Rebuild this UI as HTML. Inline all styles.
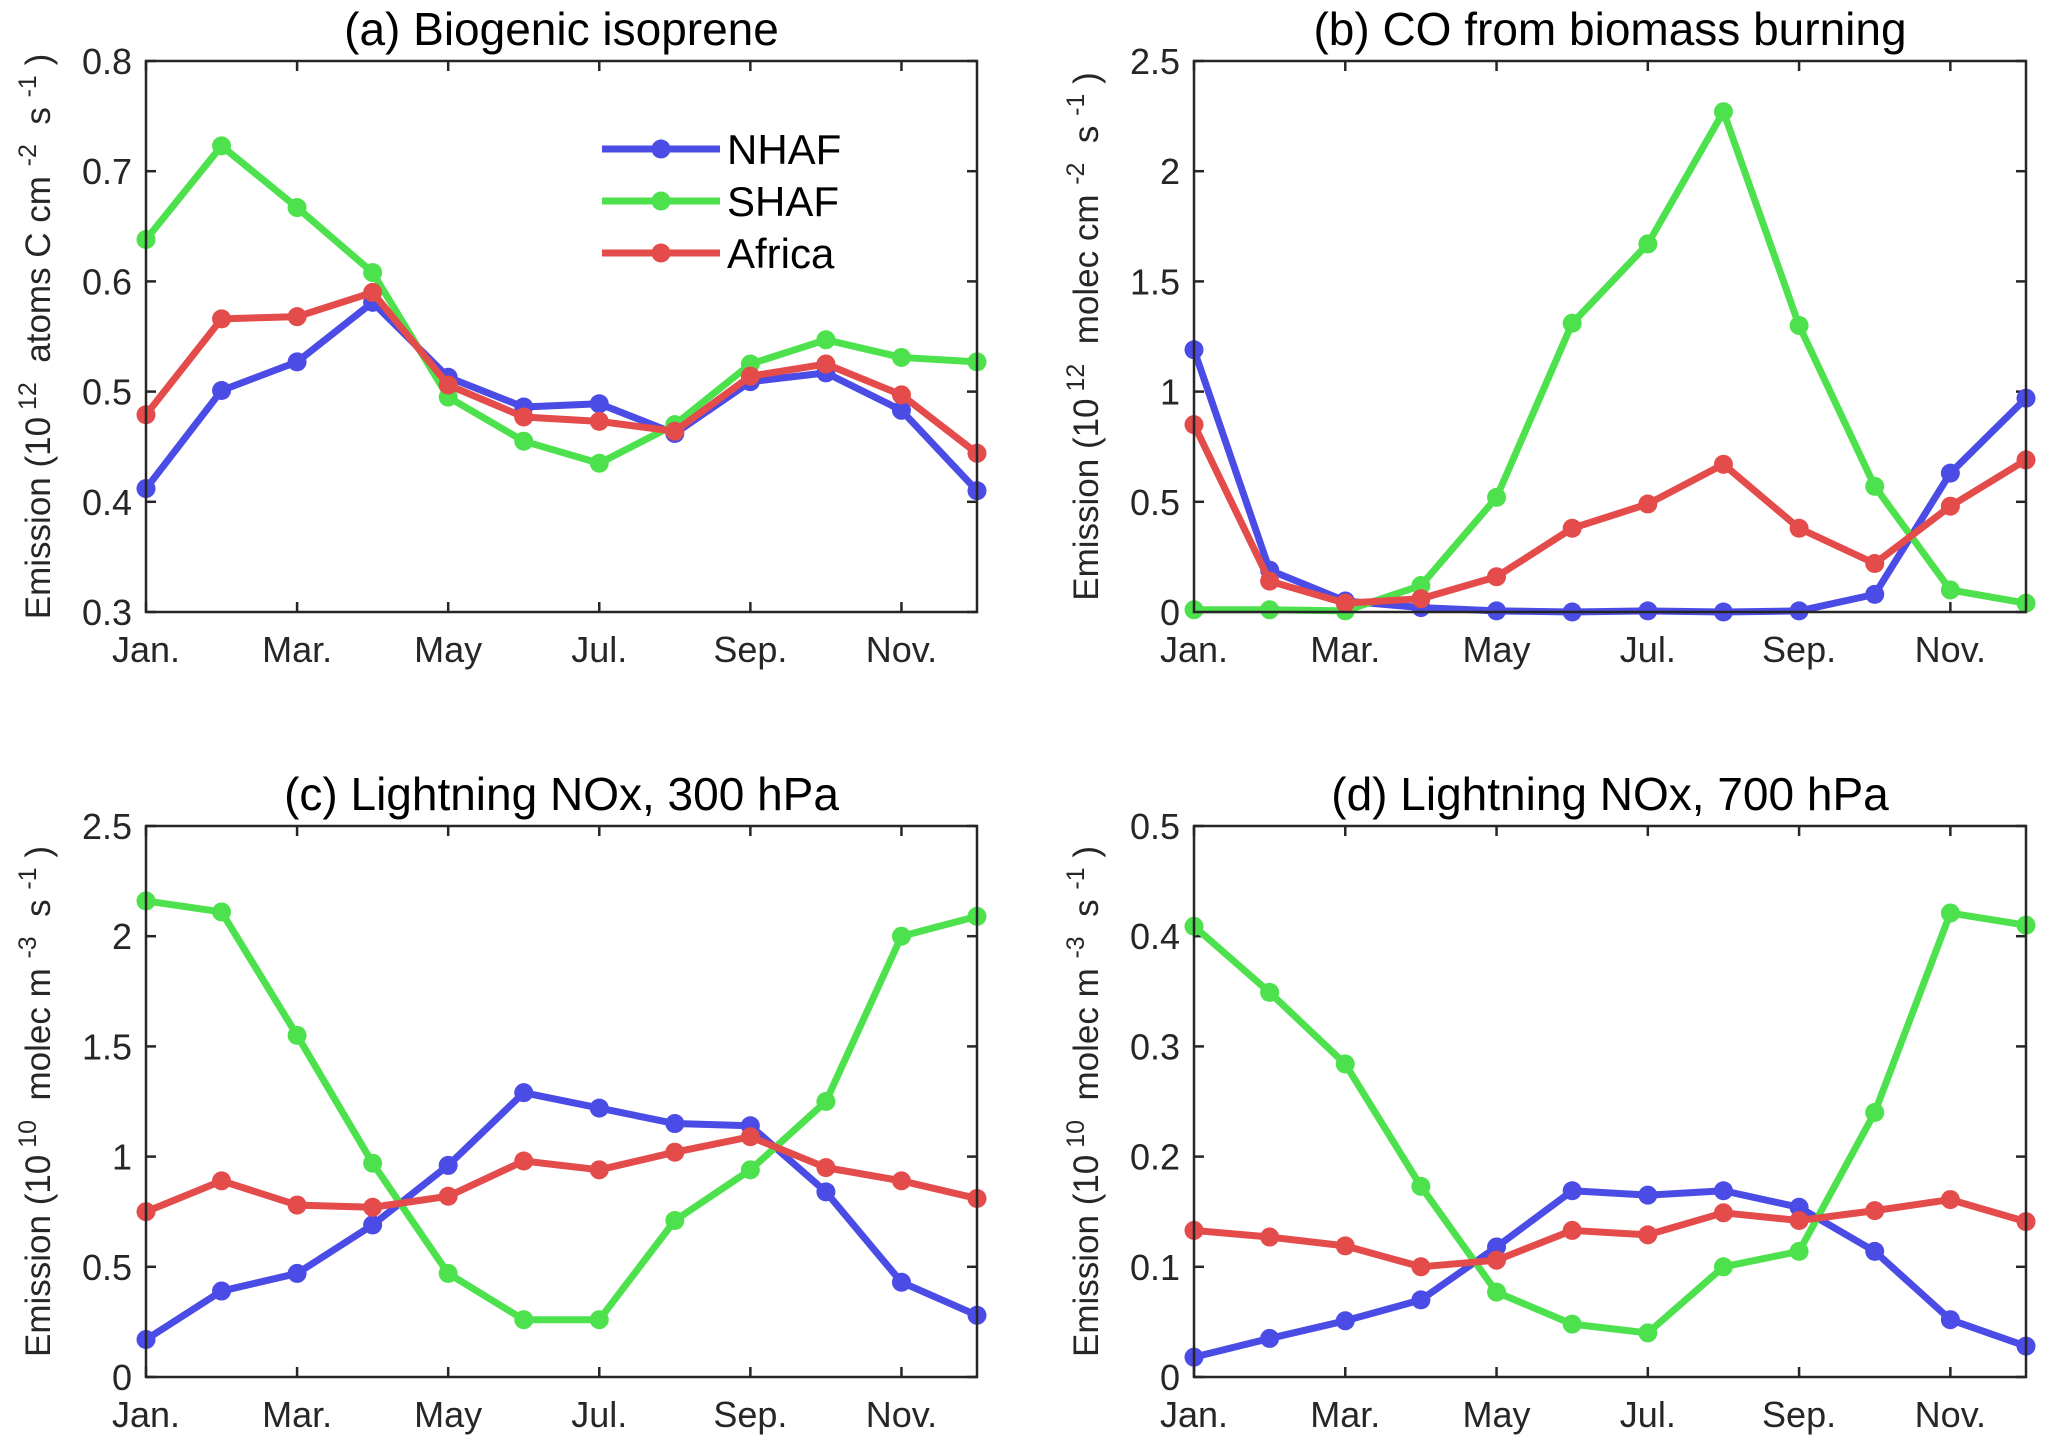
<!DOCTYPE html>
<html><head><meta charset="utf-8"><style>
body{margin:0;background:#fff}
svg{display:block;font-family:"Liberation Sans",Arial,sans-serif}
</style></head><body>
<svg id="fig" width="2067" height="1452" viewBox="0 0 2067 1452" xmlns="http://www.w3.org/2000/svg"></svg>
<script>
const months = [1,2,3,4,5,6,7,8,9,10,11,12];
const xTickMonths = [1,3,5,7,9,11];
const xTickLabels = ["Jan.","Mar.","May","Jul.","Sep.","Nov."];
const seriesNames = ["NHAF","SHAF","Africa"];
const seriesColors = ["#4b4be6","#4de24d","#e44b4b"];

const aNHAF = [0.412,0.501,0.527,0.581,0.513,0.486,0.489,0.462,0.509,0.517,0.483,0.410];
const aSHAF = [0.638,0.723,0.667,0.608,0.495,0.455,0.435,0.470,0.525,0.547,0.531,0.527];
const aAfrica = [0.479,0.566,0.568,0.590,0.506,0.477,0.473,0.464,0.514,0.525,0.497,0.444];
const aTicks = [0.3,0.4,0.5,0.6,0.7,0.8];
const aTickLabels = ["0.3","0.4","0.5","0.6","0.7","0.8"];

const bNHAF = [1.19,0.19,0.05,0.02,0.005,0.0,0.005,0.0,0.005,0.08,0.63,0.97];
const bSHAF = [0.01,0.01,0.005,0.12,0.52,1.31,1.67,2.27,1.30,0.57,0.10,0.04];
const bAfrica = [0.85,0.14,0.04,0.06,0.16,0.38,0.49,0.67,0.38,0.22,0.48,0.69];
const bTicks = [0,0.5,1,1.5,2,2.5];
const bTickLabels = ["0","0.5","1","1.5","2","2.5"];

const cNHAF = [0.17,0.39,0.47,0.69,0.96,1.29,1.22,1.15,1.14,0.84,0.43,0.28];
const cSHAF = [2.16,2.11,1.55,0.97,0.47,0.26,0.26,0.71,0.94,1.25,2.00,2.09];
const cAfrica = [0.75,0.89,0.78,0.77,0.82,0.98,0.94,1.02,1.09,0.95,0.89,0.81];
const cTicks = [0,0.5,1,1.5,2,2.5];
const cTickLabels = ["0","0.5","1","1.5","2","2.5"];

const dNHAF = [0.018,0.035,0.051,0.070,0.118,0.169,0.165,0.169,0.154,0.114,0.052,0.028];
const dSHAF = [0.409,0.349,0.284,0.173,0.077,0.048,0.040,0.100,0.114,0.240,0.421,0.410];
const dAfrica = [0.133,0.127,0.119,0.100,0.106,0.133,0.129,0.149,0.142,0.151,0.161,0.141];
const dTicks = [0,0.1,0.2,0.3,0.4,0.5];
const dTickLabels = ["0","0.1","0.2","0.3","0.4","0.5"];

const NS="http://www.w3.org/2000/svg";
const svg=document.getElementById('fig');
function mk(tag,attrs,parent){const e=document.createElementNS(NS,tag);for(const k in attrs)e.setAttribute(k,attrs[k]);(parent||svg).appendChild(e);return e;}

const panels=[
 {id:'a',title:'(a) Biogenic isoprene',L:146,R:977,T:61,B:612,ymin:0.3,ymax:0.8,ticks:aTicks,labels:aTickLabels,data:[aNHAF,aSHAF,aAfrica],unit:'atoms C cm',exp:'12',mid:'-2',legend:true},
 {id:'b',title:'(b) CO from biomass burning',L:1194,R:2026,T:61,B:612,ymin:0,ymax:2.5,ticks:bTicks,labels:bTickLabels,data:[bNHAF,bSHAF,bAfrica],unit:'molec cm',exp:'12',mid:'-2'},
 {id:'c',title:'(c) Lightning NOx, 300 hPa',L:146,R:977,T:826,B:1377,ymin:0,ymax:2.5,ticks:cTicks,labels:cTickLabels,data:[cNHAF,cSHAF,cAfrica],unit:'molec m',exp:'10',mid:'-3'},
 {id:'d',title:'(d) Lightning NOx, 700 hPa',L:1194,R:2026,T:826,B:1377,ymin:0,ymax:0.5,ticks:dTicks,labels:dTickLabels,data:[dNHAF,dSHAF,dAfrica],unit:'molec m',exp:'10',mid:'-3'}
];

panels.forEach(p=>{
 const g=mk('g',{});
 
 
 const xs=m=>p.L+(m-1)/11*(p.R-p.L);
 const ys=v=>p.B-(v-p.ymin)/(p.ymax-p.ymin)*(p.B-p.T);
 const t=mk('text',{x:(p.L+p.R)/2,y:p.T-16,'text-anchor':'middle','font-size':46,fill:'#000'},g);
 t.textContent=p.title;
 
 
 p.ticks.forEach((v,i)=>{
  const y=ys(v);
  mk('line',{x1:p.L,x2:p.L+10,y1:y,y2:y,stroke:'#262626','stroke-width':2.5},g);
  mk('line',{x1:p.R,x2:p.R-10,y1:y,y2:y,stroke:'#262626','stroke-width':2.5},g);
  const tl=mk('text',{x:p.L-14,y:y+13,'text-anchor':'end','font-size':36,fill:'#262626'},g);
  tl.textContent=p.labels[i];
  
  
 });
 xTickMonths.forEach((m,i)=>{
  const x=xs(m);
  mk('line',{x1:x,x2:x,y1:p.B,y2:p.B-10,stroke:'#262626','stroke-width':2.5},g);
  mk('line',{x1:x,x2:x,y1:p.T,y2:p.T+10,stroke:'#262626','stroke-width':2.5},g);
  const tl=mk('text',{x:x,y:p.B+50,'text-anchor':'middle','font-size':36,fill:'#262626'},g);
  tl.textContent=xTickLabels[i];
  
  
 });
 const yl=mk('text',{transform:`translate(${p.L-96},${(p.T+p.B)/2}) rotate(-90)`,'text-anchor':'middle','font-size':35,fill:'#262626'},g);
 
 
 const parts=[['Emission (10',0],[' '+p.exp,1],['  '+p.unit+' ',0],[p.mid,1],['  s ',0],['-1',1],[' )',0]];
 parts.forEach(([s,sup],k)=>{const ts=mk('tspan',{},yl);ts.textContent=s;ts.setAttribute('xml:space','preserve');if(sup){ts.setAttribute('font-size',25);ts.setAttribute('dy',-14);}else if(k>0){ts.setAttribute('dy',14);}});
 yl.setAttribute('style','white-space:pre');
 p.data.forEach((arr,si)=>{
  const pts=arr.map((v,i)=>xs(months[i])+','+ys(v)).join(' ');
  const pl=mk('polyline',{points:pts,fill:'none',stroke:seriesColors[si],'stroke-width':7,'stroke-linejoin':'round'},g);
  
  
  arr.forEach((v,i)=>{
   const c=mk('circle',{cx:xs(months[i]),cy:ys(v),r:9.5,fill:seriesColors[si]},g);
   
   
  });
 });
 const box=mk('rect',{x:p.L,y:p.T,width:p.R-p.L,height:p.B-p.T,fill:'none',stroke:'#262626','stroke-width':2.5},g);
 
 
 if(p.legend){
  const lg=mk('g',{},g);
  
  
  seriesNames.forEach((n,i)=>{
   const y=149+i*52;
   mk('line',{x1:602,x2:720,y1:y,y2:y,stroke:seriesColors[i],'stroke-width':7},lg);
   mk('circle',{cx:661,cy:y,r:9.5,fill:seriesColors[i]},lg);
   const tx=mk('text',{x:727,y:y+15,'font-size':42,fill:'#000'},lg);
   tx.textContent=n;
   
   
  });
 }
});
</script>
</body></html>
